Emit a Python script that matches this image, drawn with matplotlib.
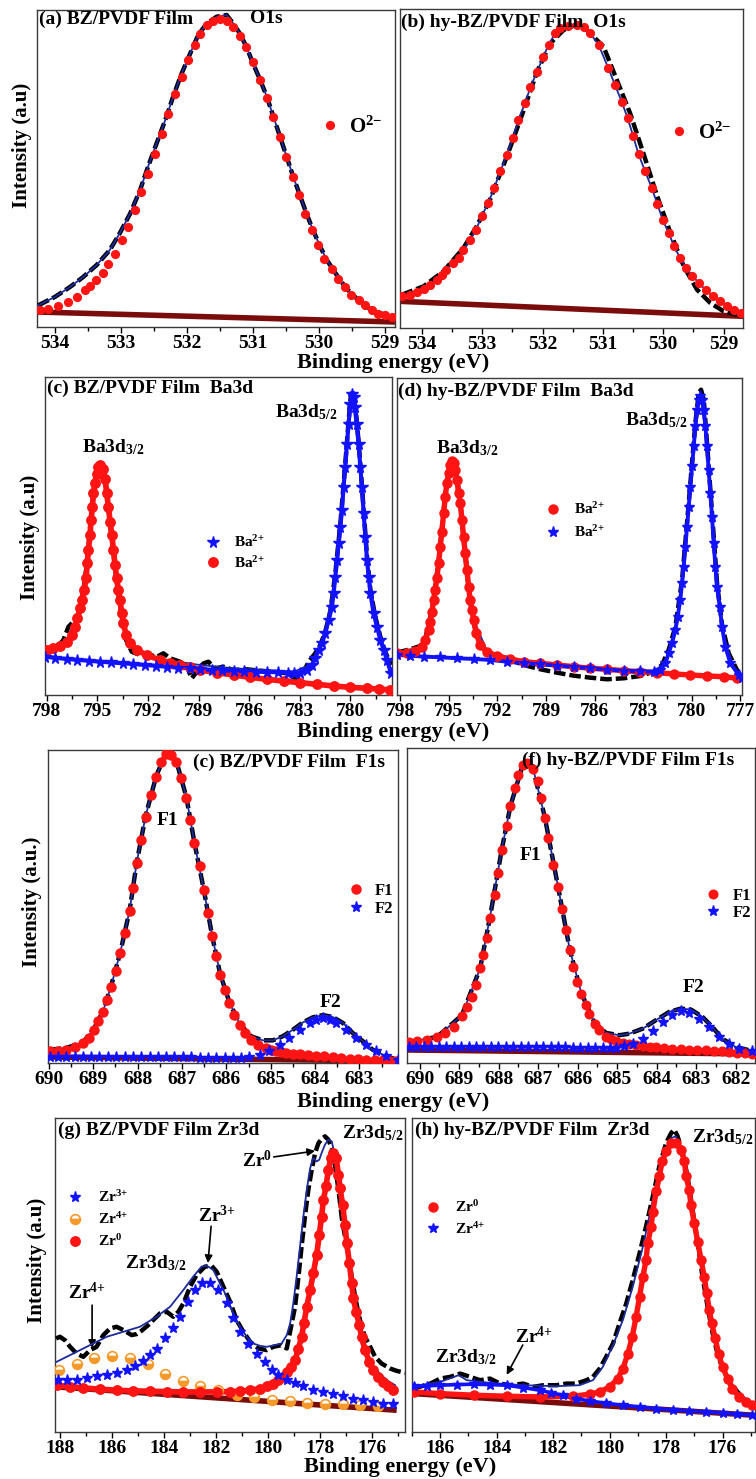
import matplotlib
matplotlib.use("Agg")
import matplotlib.pyplot as plt
from matplotlib.ticker import MultipleLocator, StrMethodFormatter

plt.rcParams['font.family'] = ['Liberation Serif', 'DejaVu Serif']
plt.rcParams['font.weight'] = 'bold'
plt.rcParams['mathtext.default'] = 'regular'
plt.rcParams['axes.linewidth'] = 1.0

RED = '#ff1414'
BLUE = '#1212ff'
NAVY = '#1c2a9c'
MAROON = '#7b0c0c'
ORANGE = '#f59a2a'

# ---------------- (a) BZ/PVDF O1s ----------------
a_red_e = [534.23, 534.10, 533.95, 533.80, 533.67, 533.55, 533.47, 533.37, 533.27, 533.19,
           533.09, 532.99, 532.89, 532.79, 532.69, 532.59, 532.48, 532.38, 532.28, 532.18,
           532.08, 531.98, 531.88, 531.80, 531.70, 531.60, 531.50, 531.40, 531.30, 531.20,
           531.10, 531.00, 530.89, 530.79, 530.70, 530.59, 530.50, 530.40, 530.30, 530.21,
           530.11, 530.01, 529.92, 529.81, 529.71, 529.61, 529.51, 529.40, 529.30, 529.20,
           529.10, 529.00, 528.90]
a_red_i = [16.7, 18.3, 20.7, 25.0, 30.0, 36.7, 40.7, 46.7, 54.0, 62.7,
           73.3, 86.7, 100.0, 117.3, 135.0, 153.3, 172.7, 193.3, 212.7, 232.3,
           250.0, 266.7, 281.7, 292.3, 301.7, 306.0, 307.7, 306.0, 300.0, 290.7,
           280.0, 265.0, 246.7, 228.3, 210.0, 190.0, 170.0, 150.0, 131.7, 113.3,
           96.7, 81.7, 68.3, 58.3, 48.3, 40.0, 31.7, 26.7, 21.7, 16.7,
           13.3, 11.7, 10.0]
a_fit_e = [534.25, 534.00, 533.77, 533.57, 533.37, 533.17, 533.02, 532.86, 532.71, 532.59,
           532.46, 532.31, 532.21, 532.08, 531.95, 531.83, 531.70, 531.55, 531.40, 531.30,
           531.20, 531.10, 531.00, 530.89, 530.79, 530.69, 530.59, 530.49, 530.39, 530.29,
           530.19, 530.09, 529.98, 529.88, 529.78, 529.68, 529.58, 529.48, 529.38, 529.28,
           529.13, 528.97, 528.87]
a_fit_i = [21.7, 30.0, 40.0, 50.0, 61.7, 76.7, 93.3, 113.3, 136.7, 160.0,
           183.3, 210.0, 230.0, 253.3, 273.3, 291.7, 303.3, 310.0, 311.7, 303.3,
           293.3, 280.0, 263.3, 246.7, 230.0, 210.0, 190.0, 170.0, 150.0, 131.7,
           113.3, 96.7, 80.0, 66.7, 56.7, 46.7, 38.3, 31.7, 25.0, 20.0,
           15.0, 11.7, 10.0]
a_bg_e = [534.27, 528.85]
a_bg_i = [15.0, 5.0]

# ---------------- (b) hy-BZ/PVDF O1s ----------------
b_red_e = [534.33, 534.19, 534.08, 533.97, 533.86, 533.75, 533.67, 533.59, 533.48, 533.39,
           533.31, 533.20, 533.10, 533.01, 532.90, 532.80, 532.70, 532.59, 532.49, 532.40,
           532.29, 532.20, 532.09, 531.99, 531.90, 531.79, 531.71, 531.57, 531.43, 531.32,
           531.21, 531.07, 530.91, 530.80, 530.69, 530.59, 530.50, 530.41, 530.30, 530.19,
           530.10, 530.01, 529.91, 529.82, 529.72, 529.62, 529.52, 529.41, 529.30, 529.18,
           529.06, 528.94, 528.83, 528.72]
b_red_i = [31.7, 33.3, 35.7, 39.0, 43.3, 48.3, 53.3, 58.3, 65.0, 70.0,
           77.7, 88.3, 98.3, 111.7, 125.0, 140.0, 156.7, 173.3, 190.0, 208.3,
           225.0, 241.0, 256.7, 271.0, 283.3, 295.0, 300.0, 302.3, 303.3, 301.0,
           295.0, 283.3, 260.0, 243.3, 226.7, 210.0, 192.3, 174.0, 156.7, 140.0,
           124.3, 108.3, 95.0, 81.7, 70.0, 60.0, 52.3, 45.0, 38.3, 31.7,
           26.7, 21.7, 18.3, 15.0]
b_raw_e = [534.33, 533.97, 533.64, 533.31, 533.09, 532.87, 532.59, 532.31, 532.09, 531.87,
           531.65, 531.46, 531.27, 530.99, 530.77, 530.55, 530.33, 530.10, 529.88, 529.66,
           529.44, 529.22, 529.00, 528.78]
b_raw_i = [33.3, 41.7, 56.7, 80.0, 101.7, 128.3, 171.7, 218.3, 256.7, 285.0,
           298.3, 303.3, 298.3, 281.7, 248.3, 215.0, 175.0, 131.7, 95.0, 61.7,
           38.3, 25.0, 16.7, 13.3]
b_bg_e = [534.36, 528.68]
b_bg_i = [26.7, 11.7]

# ---------------- (c) BZ/PVDF Ba3d ----------------
c_red_e = [798.00, 797.60, 797.21, 796.81, 796.52, 796.32, 796.18, 796.02, 795.92, 795.78,
           795.67, 795.59, 795.53, 795.43, 795.37, 795.29, 795.23, 795.13, 795.03, 794.93,
           794.84, 794.68, 794.54, 794.44, 794.34, 794.24, 794.14, 794.04, 793.95, 793.85,
           793.75, 793.65, 793.55, 793.45, 793.29, 793.06, 792.66, 792.07, 791.28, 790.68,
           790.09, 789.49, 788.90, 787.91, 786.92, 785.93, 784.95, 783.96, 782.97, 781.98,
           780.99, 780.00, 779.01, 778.32, 777.63]
c_red_i = [45.0, 46.7, 49.0, 53.3, 60.0, 68.3, 76.7, 86.7, 95.0, 105.0,
           116.7, 131.7, 145.0, 160.0, 175.0, 188.3, 201.7, 211.7, 221.7, 228.3,
           230.0, 226.7, 216.7, 201.7, 188.3, 173.3, 160.0, 145.0, 130.0, 116.7,
           105.0, 95.0, 81.7, 71.7, 60.0, 51.7, 45.0, 40.0, 35.0, 32.3,
           30.0, 27.7, 25.0, 22.3, 20.0, 17.7, 15.7, 14.0, 12.3, 10.7,
           9.0, 7.7, 6.7, 6.0, 5.0]
c_blue_e = [798.10, 797.50, 796.81, 796.20, 795.50, 794.84, 794.20, 793.50, 792.86, 792.20,
            791.50, 790.88, 790.20, 789.50, 788.90, 788.20, 787.60, 786.92, 786.30, 785.60,
            784.95, 784.30, 783.70, 783.36, 782.97,
            782.57, 782.28, 782.08, 781.88, 781.68, 781.49, 781.29, 781.09, 780.99, 780.89,
            780.79, 780.69, 780.59, 780.50, 780.40, 780.30, 780.20, 780.10, 780.00, 779.90,
            779.80, 779.70, 779.61, 779.51, 779.41, 779.31, 779.21, 779.11, 779.01, 778.91,
            778.81, 778.62, 778.42, 778.22, 778.02, 777.83, 777.59]
c_blue_i = [38.3, 37.3, 36.0, 35.2, 34.3, 33.3, 32.6, 31.8, 31.0, 30.1,
            29.2, 28.3, 27.4, 26.6, 25.7, 25.1, 24.6, 24.0, 23.7, 23.3,
            23.0, 22.8, 22.5, 22.3, 22.3,
            25.0, 30.0, 36.7, 45.0, 51.7, 61.7, 75.0, 88.3, 101.7, 118.3,
            135.0, 151.7, 168.3, 185.0, 208.3, 228.3, 251.7, 271.7, 291.7, 301.7,
            298.3, 288.3, 271.7, 251.7, 228.3, 208.3, 181.7, 158.3, 135.0, 118.3,
            101.7, 81.7, 68.3, 55.0, 45.0, 35.0, 21.7]
c_raw_e = [798.10, 797.51, 797.01, 796.71, 796.42, 796.12, 795.82, 795.59, 795.39, 795.19,
           795.00, 794.84, 794.64, 794.48, 794.28, 794.04, 793.81, 793.55, 793.29, 792.96,
           792.46, 791.87, 791.47, 791.08, 790.68, 790.09, 789.69, 789.40, 789.10, 788.70,
           788.41, 788.01, 787.52, 786.92, 786.13, 785.34, 784.55, 783.76, 783.27, 782.87,
           782.47, 782.08, 781.78, 781.49, 781.19, 780.89, 780.59, 780.30, 780.10, 779.96,
           779.80, 779.61, 779.41, 779.21, 779.01, 778.81, 778.52, 778.22, 777.93, 777.59]
c_raw_i = [41.7, 45.7, 55.0, 68.3, 73.3, 81.7, 105.0, 135.0, 175.0, 208.3,
           225.0, 229.0, 223.3, 208.3, 178.3, 141.7, 108.3, 78.3, 55.0, 43.3,
           40.0, 40.0, 38.3, 41.7, 36.7, 33.3, 28.3, 16.7, 23.3, 31.7,
           33.3, 26.7, 28.3, 25.0, 25.7, 24.3, 23.3, 21.7, 16.7, 20.0,
           33.3, 41.7, 50.0, 63.3, 83.3, 121.7, 171.7, 231.7, 275.0, 301.7,
           300.0, 273.3, 231.7, 185.0, 138.3, 105.0, 78.3, 58.3, 43.3, 30.0]
c_fit_e = [798.10, 796.81, 796.02, 795.53, 795.13, 794.84, 794.54, 794.14, 793.75, 793.29,
           792.46, 790.88, 788.90, 786.92, 784.95, 783.36, 782.28, 781.49, 780.89, 780.30,
           779.90, 779.41, 779.01, 778.52, 777.93, 777.59]
c_fit_i = [43.3, 55.0, 86.7, 145.0, 211.7, 229.0, 216.7, 160.0, 105.0, 56.7,
           41.7, 35.0, 30.0, 26.7, 25.0, 23.3, 31.0, 63.3, 120.0, 230.0,
           301.7, 230.0, 136.7, 78.3, 43.3, 25.0]

# ---------------- (d) hy-BZ/PVDF Ba3d ----------------
d_red_e = [798.21, 797.59, 797.07, 796.66, 796.46, 796.25, 796.15, 796.04, 795.94, 795.84,
           795.74, 795.63, 795.53, 795.43, 795.32, 795.22, 795.12, 795.01, 794.91, 794.81,
           794.71, 794.60, 794.50, 794.40, 794.29, 794.19, 794.09, 793.99, 793.88, 793.78,
           793.68, 793.57, 793.47, 793.31, 793.06, 792.65, 792.03, 791.21, 790.38, 789.35,
           788.32, 787.29, 786.26, 785.23, 784.21, 783.18, 782.15, 781.12, 780.09, 779.06,
           778.03, 777.21]
d_red_i = [41.7, 42.3, 44.3, 48.3, 55.0, 65.0, 73.3, 83.3, 95.0, 105.0,
           116.7, 131.7, 148.3, 163.3, 181.7, 198.3, 211.7, 221.7, 230.0, 233.3,
           231.7, 225.0, 215.0, 201.7, 191.7, 175.0, 158.3, 141.7, 125.0, 108.3,
           95.0, 85.0, 75.0, 61.7, 50.0, 43.3, 39.0, 36.0, 33.3, 31.7,
           30.0, 28.3, 26.7, 25.7, 24.3, 23.3, 22.3, 21.0, 20.0, 19.0,
           18.3, 16.7]
d_blue_e = [798.21, 797.38, 796.56, 795.53, 794.50, 793.47, 792.44, 791.41, 790.38, 789.35,
            788.32, 787.29, 786.26, 785.23, 784.21, 783.18, 782.35, 781.94, 781.63, 781.43,
            781.22, 781.01, 780.87, 780.71, 780.60, 780.50, 780.40, 780.29, 780.19, 780.09,
            779.98, 779.88, 779.78, 779.68, 779.57, 779.47, 779.37, 779.26, 779.16, 779.06,
            778.96, 778.85, 778.75, 778.65, 778.54, 778.44, 778.28, 778.13, 777.93, 777.62,
            777.10, 776.90]
d_blue_i = [40.0, 39.3, 38.3, 37.7, 36.7, 36.0, 35.0, 33.3, 31.7, 30.7,
            29.3, 28.0, 26.7, 25.3, 24.3, 23.7, 23.3, 25.0, 31.7, 41.7,
            51.7, 65.0, 78.3, 95.0, 111.7, 128.3, 148.3, 168.3, 188.3, 208.3,
            228.3, 248.3, 268.3, 285.0, 295.0, 298.3, 295.0, 285.0, 268.3, 248.3,
            225.0, 201.7, 178.3, 151.7, 128.3, 108.3, 88.3, 68.3, 48.3, 31.7,
            20.0, 16.7]
d_raw_e = [798.21, 797.38, 796.76, 796.46, 796.04, 795.63, 795.22, 794.91, 794.75, 794.54,
           794.29, 793.99, 793.68, 793.31, 792.85, 792.03, 791.21, 790.38, 789.35, 788.32,
           787.29, 786.26, 785.23, 784.21, 783.18, 782.35, 781.84, 781.43, 781.01, 780.60,
           780.19, 779.78, 779.57, 779.43, 779.26, 779.06, 778.75, 778.44, 778.13, 777.72,
           777.21, 776.90]
d_raw_i = [42.3, 45.7, 49.0, 55.7, 85.0, 133.3, 200.0, 231.0, 235.0, 223.3,
           191.7, 140.0, 93.3, 60.0, 45.7, 40.0, 35.0, 30.0, 25.7, 22.3,
           19.3, 17.3, 15.7, 16.7, 19.0, 23.3, 30.0, 45.0, 68.3, 115.0,
           191.7, 271.7, 301.7, 305.0, 295.0, 251.7, 181.7, 111.7, 70.0, 41.7,
           25.0, 16.7]
d_fit_e = [798.21, 796.66, 796.04, 795.53, 795.01, 794.77, 794.50, 793.99, 793.47, 792.65,
           790.38, 787.29, 784.21, 782.35, 781.63, 780.91, 780.40, 779.88, 779.47, 779.06,
           778.54, 778.03, 777.41, 776.90]
d_fit_i = [41.7, 49.0, 84.3, 149.0, 222.3, 234.0, 215.7, 141.7, 75.7, 44.0,
           33.3, 28.3, 24.3, 23.7, 32.3, 75.0, 150.0, 250.0, 300.0, 250.0,
           130.0, 58.3, 26.7, 16.7]

# ---------------- (e) BZ/PVDF F1s ----------------
e_red_e = [689.98, 689.80, 689.61, 689.42, 689.23, 689.10, 688.99, 688.90, 688.78, 688.69,
           688.60, 688.48, 688.39, 688.29, 688.18, 688.11, 688.02, 687.92, 687.82, 687.69,
           687.58, 687.47, 687.36, 687.24, 687.13, 687.02, 686.90, 686.81, 686.72, 686.60,
           686.51, 686.42, 686.32, 686.23, 686.14, 686.03, 685.93, 685.82, 685.70, 685.59,
           685.44, 685.29, 685.10, 684.99, 684.88, 684.76, 684.65, 684.50, 684.35, 684.16,
           683.97, 683.79, 683.60, 683.41, 683.22, 683.03, 682.85, 682.65, 682.47, 682.32,
           682.17]
e_red_i = [11.7, 12.3, 13.3, 15.7, 20.0, 25.0, 33.3, 41.7, 50.7, 63.3,
           75.7, 91.7, 110.0, 130.0, 151.7, 175.0, 200.0, 223.3, 246.7, 268.3,
           286.7, 301.7, 309.3, 308.3, 301.7, 285.0, 265.0, 243.3, 220.0, 196.7,
           173.3, 150.0, 126.7, 106.7, 88.3, 73.3, 60.0, 48.3, 38.3, 30.0,
           23.3, 18.3, 15.0, 13.3, 11.7, 10.7, 10.0, 9.3, 9.0, 8.3,
           7.3, 6.7, 5.7, 5.0, 4.3, 4.0, 3.3, 3.0, 2.7, 2.3,
           1.7]
e_blue_e = [689.98, 689.80, 689.61, 689.42, 689.23, 689.05, 688.86, 688.67, 688.48, 688.29,
            688.11, 687.92, 687.73, 687.54, 687.36, 687.17, 686.98, 686.79, 686.60, 686.42,
            686.23, 686.04, 685.85, 685.66, 685.48, 685.25, 685.03, 684.80, 684.58, 684.35,
            684.12, 683.97, 683.82, 683.67, 683.52, 683.30, 683.07, 682.85, 682.62, 682.40,
            682.13]
e_blue_i = [6.0, 6.0, 6.0, 6.0, 6.0, 6.0, 6.0, 6.0, 6.0, 6.0,
            6.0, 6.0, 5.7, 5.7, 5.7, 5.7, 5.7, 5.7, 5.3, 5.3,
            5.3, 5.3, 5.0, 5.0, 6.0, 8.3, 11.7, 18.3, 25.0, 33.3,
            40.0, 43.3, 45.0, 43.3, 40.0, 33.3, 25.0, 18.3, 11.7, 6.7,
            2.7]
e_fit_e = [689.98, 689.61, 689.23, 688.99, 688.78, 688.60, 688.39, 688.18, 688.02, 687.82,
           687.58, 687.36, 687.13, 686.90, 686.72, 686.51, 686.32, 686.14, 685.93, 685.70,
           685.44, 685.18, 684.95, 684.73, 684.50, 684.27, 684.05, 683.82, 683.60, 683.37,
           683.15, 682.92, 682.70, 682.47, 682.13]
e_fit_i = [13.3, 15.0, 20.7, 34.0, 51.7, 76.7, 110.7, 152.7, 200.7, 247.3,
           287.3, 310.7, 302.7, 266.0, 220.7, 174.0, 127.3, 89.3, 60.7, 39.3,
           26.7, 22.7, 22.7, 26.7, 33.3, 40.7, 45.7, 48.0, 46.0, 40.0,
           30.0, 21.7, 13.3, 8.3, 2.7]
e_bg_e = [690.02, 682.13]
e_bg_i = [6.0, 2.0]

# ---------------- (f) hy-BZ/PVDF F1s ----------------
f_red_e = [690.28, 690.07, 689.82, 689.56, 689.35, 689.14, 688.93, 688.81, 688.68, 688.57,
           688.47, 688.39, 688.30, 688.22, 688.09, 688.01, 687.92, 687.80, 687.70, 687.59,
           687.50, 687.38, 687.28, 687.13, 687.00, 686.92, 686.83, 686.75, 686.62, 686.50,
           686.39, 686.29, 686.20, 686.12, 686.02, 685.91, 685.80, 685.70, 685.57, 685.45,
           685.28, 685.15, 685.03, 684.86, 684.69, 684.52, 684.35, 684.18, 684.02, 683.81,
           683.60, 683.39, 683.18, 682.97, 682.76, 682.55, 682.34, 682.17, 681.96, 681.76,
           681.58]
f_red_i = [21.0, 22.0, 23.3, 26.0, 30.0, 36.0, 46.7, 56.0, 66.0, 77.7,
           94.3, 107.7, 124.3, 144.3, 167.7, 189.3, 212.7, 236.0, 256.0, 274.3,
           287.7, 297.7, 299.3, 293.3, 281.0, 264.3, 244.3, 224.3, 197.7, 176.0,
           153.7, 132.7, 112.7, 96.0, 81.0, 69.3, 57.7, 49.3, 39.3, 32.7,
           26.0, 23.7, 21.7, 20.0, 18.7, 17.7, 17.0, 16.3, 16.0, 15.0,
           14.3, 13.7, 13.3, 13.0, 12.7, 12.0, 11.7, 11.0, 10.3, 9.7,
           9.3]
f_blue_e = [690.28, 690.09, 689.90, 689.71, 689.52, 689.33, 689.14, 688.95, 688.76, 688.57,
            688.39, 688.20, 688.01, 687.82, 687.63, 687.44, 687.25, 687.06, 686.87, 686.68,
            686.50, 686.31, 686.12, 685.93, 685.74, 685.55, 685.36, 685.18, 685.03, 684.82,
            684.61, 684.35, 684.10, 683.85, 683.60, 683.39, 683.18, 682.92, 682.67, 682.42,
            682.17, 681.92, 681.58]
f_blue_i = [16.0, 16.0, 16.0, 16.0, 16.0, 16.0, 16.0, 16.0, 16.0, 16.0,
            16.0, 16.0, 16.0, 16.0, 16.0, 16.0, 16.0, 16.0, 16.0, 15.8,
            15.7, 15.5, 15.3, 15.3, 15.3, 15.2, 15.0, 15.0, 15.0, 16.7,
            19.3, 24.3, 32.0, 41.0, 47.7, 51.7, 50.0, 44.3, 36.0, 26.0,
            19.3, 14.3, 12.0]
f_fit_e = [690.28, 689.56, 688.93, 688.47, 688.22, 687.92, 687.70, 687.38, 687.13, 686.83,
           686.50, 686.20, 685.91, 685.57, 685.28, 684.94, 684.69, 684.35, 684.02, 683.68,
           683.39, 683.13, 682.84, 682.59, 682.34, 682.00, 681.58]
f_fit_i = [21.0, 26.0, 47.7, 94.3, 145.3, 213.3, 256.7, 298.7, 294.3, 245.0,
           176.7, 113.3, 70.0, 40.0, 30.0, 27.7, 29.3, 34.3, 42.7, 51.0,
           54.3, 53.3, 46.0, 36.0, 24.3, 16.0, 12.0]
f_bg_e = [690.32, 681.51]
f_bg_i = [13.0, 9.0]

# ---------------- (g) BZ/PVDF Zr3d ----------------
g_red_e = [188.13, 187.61, 187.10, 186.46, 185.82, 185.18, 184.53, 183.89, 183.25, 182.61,
           181.97, 181.45, 181.07, 180.68, 180.30, 180.04, 179.79, 179.59, 179.40, 179.25,
           179.12, 178.95, 178.82, 178.70, 178.61, 178.50, 178.37, 178.25, 178.12, 178.02,
           177.93, 177.86, 177.76, 177.67, 177.57, 177.48, 177.37, 177.28, 177.22, 177.12,
           177.03, 176.96, 176.86, 176.77, 176.71, 176.60, 176.48, 176.39, 176.26, 176.09,
           175.94, 175.74, 175.55, 175.36, 175.17]
g_red_i = [46.7, 45.3, 44.0, 42.7, 41.7, 41.0, 40.7, 40.3, 40.0, 40.0,
           40.0, 40.3, 40.7, 41.7, 43.3, 45.7, 48.3, 51.7, 55.0, 60.0,
           65.0, 71.7, 83.3, 95.0, 108.3, 125.0, 141.7, 158.3, 176.7, 196.7,
           215.0, 231.7, 245.0, 261.7, 273.3, 278.3, 273.3, 256.7, 243.3, 226.7,
           206.7, 188.3, 168.3, 148.3, 133.3, 120.0, 106.7, 95.0, 81.7, 70.0,
           61.7, 55.0, 50.0, 45.7, 42.3]
g_blue_e = [188.06, 187.74, 187.36, 186.97, 186.59, 186.20, 185.82, 185.43, 185.11, 184.79,
            184.53, 184.28, 183.96, 183.64, 183.38, 183.06, 182.80, 182.55, 182.22, 181.90,
            181.58, 181.33, 181.07, 180.75, 180.43, 180.11, 179.85, 179.59, 179.27, 178.95,
            178.63, 178.25, 177.86, 177.48, 177.09, 176.71, 176.32, 175.94, 175.55, 175.17]
g_blue_i = [51.7, 51.7, 52.3, 54.3, 55.7, 57.3, 59.0, 61.7, 65.7, 70.7,
            76.7, 83.3, 93.3, 103.3, 115.0, 130.0, 141.7, 149.0, 149.0, 141.7,
            128.3, 113.3, 100.0, 88.3, 78.3, 70.0, 62.3, 56.7, 52.3, 49.0,
            45.7, 42.3, 40.0, 37.7, 35.7, 33.3, 31.7, 30.0, 28.3, 27.7]
g_orange_e = [188.03, 187.36, 186.68, 186.01, 185.30, 184.60, 183.96, 183.28, 182.61, 181.90,
              181.20, 180.53, 179.85, 179.14, 178.48, 177.80, 177.12, 176.45, 175.77]
g_orange_i = [62.3, 68.3, 74.3, 75.7, 74.3, 67.7, 58.3, 50.7, 45.7, 41.7,
              36.7, 35.0, 32.3, 31.0, 29.0, 28.3, 27.7, 26.7, 25.7]
g_raw_e = [188.15, 188.00, 187.81, 187.61, 187.36, 187.10, 186.84, 186.59, 186.33, 186.07,
           185.82, 185.56, 185.24, 185.05, 184.86, 184.60, 184.41, 184.15, 183.89, 183.64,
           183.44, 183.25, 182.99, 182.74, 182.42, 182.16, 181.97, 181.71, 181.45, 181.20,
           180.94, 180.68, 180.36, 180.04, 179.79, 179.47, 179.27, 179.08, 178.95, 178.82,
           178.70, 178.57, 178.44, 178.31, 178.18, 178.05, 177.93, 177.80, 177.67, 177.54,
           177.41, 177.28, 177.16, 177.03, 176.90, 176.77, 176.64, 176.51, 176.39, 176.26,
           176.06, 175.87, 175.62, 175.29, 175.04, 174.72]
g_raw_i = [93.3, 95.0, 91.7, 85.0, 78.3, 75.0, 81.7, 85.0, 96.7, 103.3,
           105.0, 101.7, 96.7, 97.7, 101.0, 106.7, 111.7, 118.3, 120.0, 115.0,
           120.0, 128.3, 145.0, 156.7, 165.0, 165.7, 160.0, 145.0, 130.0, 111.7,
           100.0, 90.0, 83.3, 81.7, 85.0, 86.7, 83.3, 108.3, 125.0, 155.0,
           185.0, 215.0, 241.7, 261.7, 278.3, 288.3, 292.3, 295.0, 291.7, 283.3,
           265.0, 241.7, 215.0, 195.0, 175.0, 155.0, 135.0, 118.3, 105.0, 95.0,
           85.0, 75.0, 68.3, 63.3, 61.0, 59.0]
g_fit_e = [188.13, 187.49, 186.84, 186.20, 185.56, 184.92, 184.28, 183.76, 183.25, 182.87,
           182.55, 182.35, 182.10, 181.84, 181.58, 181.33, 181.07, 180.81, 180.56, 180.30,
           180.04, 179.72, 179.47, 179.27, 179.14, 179.02, 178.89, 178.76, 178.63, 178.50,
           178.37, 178.25, 178.12, 178.02, 177.93, 177.80, 177.67, 177.54, 177.41, 177.28,
           177.16, 177.03, 176.90, 176.77, 176.64, 176.51, 176.39, 176.19, 175.94, 175.68,
           175.42, 175.10]
g_fit_i = [70.0, 78.3, 86.7, 95.0, 100.0, 105.0, 115.0, 125.0, 141.7, 155.0,
           165.0, 166.0, 161.7, 148.3, 135.0, 118.3, 105.0, 95.0, 88.3, 86.0,
           85.0, 86.7, 88.3, 96.7, 108.3, 128.3, 155.0, 185.0, 215.0, 241.7,
           263.3, 273.3, 270.0, 271.7, 278.3, 286.7, 291.7, 290.0, 275.0, 255.0,
           231.7, 205.0, 178.3, 151.7, 128.3, 105.0, 88.3, 75.0, 65.0, 58.3,
           51.7, 46.7]
g_bg_e = [188.13, 175.04]
g_bg_i = [45.0, 21.7]

# ---------------- (h) hy-BZ/PVDF Zr3d ----------------
h_red_e = [186.94, 186.00, 184.82, 183.65, 182.47, 181.29, 180.71, 180.35, 180.00, 179.71,
           179.53, 179.35, 179.20, 179.06, 178.94, 178.82, 178.71, 178.65, 178.53, 178.47,
           178.35, 178.24, 178.14, 178.00, 177.82, 177.65, 177.47, 177.35, 177.29, 177.18,
           177.12, 177.00, 176.88, 176.76, 176.65, 176.56, 176.47, 176.38, 176.26, 176.14,
           176.00, 175.82, 175.65, 175.41, 175.18, 174.94]
h_red_i = [40.0, 38.3, 36.7, 35.7, 35.0, 35.7, 37.7, 40.0, 45.0, 53.3,
           63.3, 78.3, 95.0, 115.0, 135.0, 155.0, 171.7, 188.3, 205.0, 220.0,
           240.0, 255.0, 270.0, 280.0, 288.3, 288.3, 281.7, 270.0, 255.0, 241.7,
           226.7, 208.3, 190.0, 171.7, 155.0, 138.3, 121.7, 108.3, 93.3, 78.3,
           65.0, 53.3, 43.3, 35.0, 30.0, 26.7]
h_blue_e = [186.94, 186.47, 186.00, 185.41, 184.82, 184.24, 183.65, 183.06, 182.47, 182.06,
            181.65, 181.18, 180.71, 180.12, 179.53, 178.94, 178.35, 177.76, 177.18, 176.59,
            176.00, 175.47, 174.94]
h_blue_i = [45.7, 46.0, 46.7, 47.3, 47.7, 47.3, 46.7, 44.3, 41.7, 39.0,
            36.7, 33.3, 31.0, 28.7, 26.7, 25.0, 23.3, 22.0, 21.0, 20.0,
            19.0, 17.7, 16.7]
h_raw_e = [186.94, 186.35, 186.00, 185.65, 185.29, 184.94, 184.59, 184.24, 183.88, 183.53,
           183.06, 182.71, 182.35, 181.88, 181.53, 181.18, 180.82, 180.59, 180.35, 180.12,
           179.88, 179.65, 179.41, 179.18, 178.94, 178.71, 178.47, 178.24, 178.00, 177.82,
           177.71, 177.59, 177.41, 177.24, 177.06, 176.88, 176.71, 176.53, 176.35, 176.18,
           176.00, 175.76, 175.47, 175.18, 174.88]
h_raw_i = [43.3, 48.3, 53.3, 55.0, 58.3, 55.0, 51.7, 53.3, 48.3, 46.7,
           48.3, 45.0, 46.7, 46.7, 48.3, 48.3, 51.7, 55.0, 63.3, 75.0,
           88.3, 108.3, 128.3, 151.7, 178.3, 205.0, 235.0, 265.0, 288.3, 298.3,
           301.7, 295.0, 278.3, 255.0, 221.7, 188.3, 155.0, 125.0, 98.3, 78.3,
           63.3, 50.0, 40.0, 31.7, 26.7]
h_fit_e = [186.94, 186.00, 185.35, 185.06, 184.24, 183.06, 181.88, 181.06, 180.59, 180.24,
           179.88, 179.53, 179.18, 178.82, 178.47, 178.12, 177.82, 177.65, 177.41, 177.06,
           176.71, 176.35, 176.00, 175.47, 174.88]
h_fit_i = [45.7, 50.0, 56.7, 51.7, 49.0, 46.7, 45.7, 46.7, 51.7, 65.0,
           86.7, 111.7, 145.0, 185.0, 231.7, 275.0, 293.3, 295.0, 276.7, 218.3,
           155.0, 98.3, 63.3, 40.0, 26.7]
h_bg_e = [186.94, 174.88]
h_bg_i = [38.3, 16.7]

# ---------------- layout (pixel boxes of the reference) ----------------
W, H = 756, 1479
FS = 14        # panel titles / annotations
TICK_FS = 14


def box(l, r, t, b):
    return [l / W, 1 - b / H, (r - l) / W, (b - t) / H]


fig = plt.figure(figsize=(W / 100, H / 100), dpi=100)


def make_ax(rect, xlim, ytop, major, minor):
    ax = fig.add_axes(rect)
    ax.set_xlim(*xlim)
    ax.set_ylim(0, ytop)
    ax.xaxis.set_major_locator(MultipleLocator(major))
    ax.xaxis.set_minor_locator(MultipleLocator(minor))
    ax.xaxis.set_major_formatter(StrMethodFormatter('{x:.0f}'))
    ax.set_yticks([])
    ax.tick_params(axis='x', which='major', direction='out', length=4, width=1,
                   labelsize=TICK_FS, pad=1.5)
    ax.tick_params(axis='x', which='minor', direction='out', length=3, width=1)
    for s in ax.spines.values():
        s.set_color('#3a3a3a')
    return ax


def raw_line(ax, e, i):
    ax.plot(e, i, color='black', lw=3.2, ls=(0, (2.6, 0.9)), zorder=3)


def fit_line(ax, e, i):
    ax.plot(e, i, color=NAVY, lw=1.3, zorder=4)


def bg_line(ax, e, i):
    ax.plot(e, i, color=MAROON, lw=4, solid_capstyle='butt', zorder=2)


def circles(ax, e, i, ms, label=None, band=False):
    if band:
        ax.plot(e, i, color=RED, lw=ms * 0.6, zorder=5)
    return ax.plot(e, i, ls='none', marker='o', ms=ms, color=RED, mec=RED,
                   zorder=6, label=label)[0]


def stars(ax, e, i, ms, label=None, band=False):
    if band:
        ax.plot(e, i, color=BLUE, lw=ms * 0.35, zorder=5)
    return ax.plot(e, i, ls='none', marker='*', ms=ms, color=BLUE, mec=BLUE,
                   zorder=7, label=label)[0]


def txt(ax, x, y, s, size=FS, ha='left'):
    ax.text(x, y, s, transform=ax.transAxes, fontsize=size, fontweight='bold',
            ha=ha, va='center', zorder=10)


def arrow(ax, x0, y0, x1, y1):
    ax.annotate('', xy=(x1, y1), xytext=(x0, y0), xycoords='axes fraction',
                textcoords='axes fraction',
                arrowprops=dict(arrowstyle='-|>', color='black', lw=1.2,
                                mutation_scale=11, shrinkA=0, shrinkB=0))


def legend(ax, handles, x, y, size, hl=1.0, htp=0.9, spacing=0.3):
    lg = ax.legend(handles=handles, loc='upper left', bbox_to_anchor=(x, y),
                   frameon=False, fontsize=size, handlelength=hl,
                   handletextpad=htp, labelspacing=spacing, borderpad=0,
                   borderaxespad=0)
    lg.set_zorder(10)
    return lg


# (a)
ax = make_ax(box(37, 395, 10, 327), (534.27, 528.85), 316.7, 1, 0.5)
bg_line(ax, a_bg_e, a_bg_i)
raw_line(ax, a_fit_e, a_fit_i)
fit_line(ax, a_fit_e, a_fit_i)
h1 = circles(ax, a_red_e, a_red_i, 5.6, label='O$^{2{-}}$')
txt(ax, 0.006, 0.972, '(a) BZ/PVDF Film')
txt(ax, 0.595, 0.972, 'O1s')
legend(ax, [h1], 0.801, 0.664, 15, hl=0.6, htp=0.6)

# (b)
ax = make_ax(box(400, 743, 9, 328), (534.36, 528.68), 319.3, 1, 0.5)
bg_line(ax, b_bg_e, b_bg_i)
raw_line(ax, b_raw_e, b_raw_i)
fit_line(ax, b_red_e, b_red_i)
h1 = circles(ax, b_red_e, b_red_i, 5.6, label='O$^{2{-}}$')
txt(ax, 0.004, 0.959, '(b) hy-BZ/PVDF Film  O1s')
legend(ax, [h1], 0.795, 0.644, 15, hl=0.6, htp=0.6)

# (c)
ax = make_ax(box(45, 392, 377, 695), (798.1, 777.53), 318.3, 3, 1.5)
raw_line(ax, c_raw_e, c_raw_i)
fit_line(ax, c_fit_e, c_fit_i)
h_r = circles(ax, c_red_e, c_red_i, 6.8, label='Ba$^{2{+}}$', band=True)
h_b = stars(ax, c_blue_e, c_blue_i, 8.5, label='Ba$^{2{+}}$', band=True)
txt(ax, 0.006, 0.965, '(c) BZ/PVDF Film  Ba3d')
txt(ax, 0.663, 0.890, 'Ba3d$_{5/2}$')
txt(ax, 0.107, 0.780, 'Ba3d$_{3/2}$')
legend(ax, [h_b, h_r], 0.462, 0.505, 11, spacing=0.3)

# (d)
ax = make_ax(box(397, 742, 378, 695), (798.2, 776.9), 316.7, 3, 1.5)
raw_line(ax, d_raw_e, d_raw_i)
fit_line(ax, d_fit_e, d_fit_i)
h_r = circles(ax, d_red_e, d_red_i, 6.5, label='Ba$^{2{+}}$', band=True)
h_b = stars(ax, d_blue_e, d_blue_i, 8.0, label='Ba$^{2{+}}$', band=True)
txt(ax, 0.004, 0.959, '(d) hy-BZ/PVDF Film  Ba3d')
txt(ax, 0.661, 0.868, 'Ba3d$_{5/2}$')
txt(ax, 0.113, 0.779, 'Ba3d$_{3/2}$')
legend(ax, [h_r, h_b], 0.430, 0.611, 11, spacing=0.45)

# (e)
ax = make_ax(box(48, 398, 750, 1063), (690.02, 682.13), 313.3, 1, 0.5)
bg_line(ax, e_bg_e, e_bg_i)
raw_line(ax, e_fit_e, e_fit_i)
fit_line(ax, e_fit_e, e_fit_i)
h_r = circles(ax, e_red_e, e_red_i, 6.5, label='F1')
h_b = stars(ax, e_blue_e, e_blue_i, 8.0, label='F2')
txt(ax, 0.414, 0.962, '(c) BZ/PVDF Film  F1s')
txt(ax, 0.311, 0.776, 'F1')
txt(ax, 0.777, 0.192, 'F2')
legend(ax, [h_r, h_b], 0.856, 0.576, 12, htp=0.6, spacing=0.15)

# (f)
ax = make_ax(box(407, 755, 748, 1063), (690.32, 681.51), 314.3, 1, 0.5)
bg_line(ax, f_bg_e, f_bg_i)
raw_line(ax, f_fit_e, f_fit_i)
fit_line(ax, f_fit_e, f_fit_i)
h_r = circles(ax, f_red_e, f_red_i, 6.2, label='F1')
h_b = stars(ax, f_blue_e, f_blue_i, 8.0, label='F2')
txt(ax, 0.330, 0.962, '(f) hy-BZ/PVDF Film F1s')
txt(ax, 0.324, 0.660, 'F1')
txt(ax, 0.791, 0.241, 'F2')
legend(ax, [h_r, h_b], 0.855, 0.557, 12, htp=0.7, spacing=0.1)

# (g)
ax = make_ax(box(55, 405, 1118, 1432), (188.19, 174.72), 313.3, 2, 1)
bg_line(ax, g_bg_e, g_bg_i)
raw_line(ax, g_raw_e, g_raw_i)
fit_line(ax, g_fit_e, g_fit_i)
h_b = stars(ax, g_blue_e, g_blue_i, 8.0, label='Zr$^{3{+}}$')
h_o = ax.plot(g_orange_e, g_orange_i, ls='none', marker='o', ms=7, color=ORANGE,
              mec=ORANGE, mfc=ORANGE, mfcalt='white', fillstyle='bottom', mew=1.2,
              zorder=6, label='Zr$^{4{+}}$')[0]
h_r = circles(ax, g_red_e, g_red_i, 6.8, label='Zr$^{0}$', band=True)
txt(ax, 0.009, 0.962, '(g) BZ/PVDF Film Zr3d')
txt(ax, 0.82, 0.952, 'Zr3d$_{5/2}$')
txt(ax, 0.534, 0.866, 'Zr$^{0}$')
arrow(ax, 0.625, 0.876, 0.743, 0.895)
txt(ax, 0.409, 0.691, 'Zr$^{3{+}}$')
arrow(ax, 0.446, 0.655, 0.437, 0.538)
txt(ax, 0.20, 0.538, 'Zr3d$_{3/2}$')
txt(ax, 0.037, 0.443, 'Zr$^{4{+}}$')
arrow(ax, 0.106, 0.404, 0.106, 0.268)
legend(ax, [h_b, h_o, h_r], 0.035, 0.773, 11, htp=1.0, spacing=0.4)

# (h)
ax = make_ax(box(412, 755, 1118, 1432), (187.0, 174.85), 313.3, 2, 1)
bg_line(ax, h_bg_e, h_bg_i)
raw_line(ax, h_raw_e, h_raw_i)
fit_line(ax, h_fit_e, h_fit_i)
h_r = circles(ax, h_red_e, h_red_i, 6.5, label='Zr$^{0}$', band=True)
h_b = stars(ax, h_blue_e, h_blue_i, 7.5, label='Zr$^{4{+}}$', band=True)
txt(ax, 0.009, 0.962, '(h) hy-BZ/PVDF Film  Zr3d')
txt(ax, 0.817, 0.939, 'Zr3d$_{5/2}$')
txt(ax, 0.299, 0.303, 'Zr$^{4{+}}$')
arrow(ax, 0.323, 0.277, 0.276, 0.182)
txt(ax, 0.067, 0.239, 'Zr3d$_{3/2}$')
legend(ax, [h_r, h_b], 0.039, 0.741, 11, htp=0.93, spacing=0.37)

# shared labels
for x, y in ((393, 363), (393, 732), (393, 1102), (400, 1467)):
    fig.text(x / W, 1 - y / H, 'Binding energy (eV)', fontsize=16, fontweight='bold',
             ha='center', va='center')
for x, y, s in ((22, 145, 'Intensity (a.u)'), (30, 537, 'Intensity (a.u)'),
                (32, 902, 'Intensity (a.u.)'), (37, 1260, 'Intensity (a.u)')):
    fig.text(x / W, 1 - y / H, s, fontsize=15, fontweight='bold', rotation=90,
             ha='center', va='center')

fig.savefig('out.png', dpi=100)
